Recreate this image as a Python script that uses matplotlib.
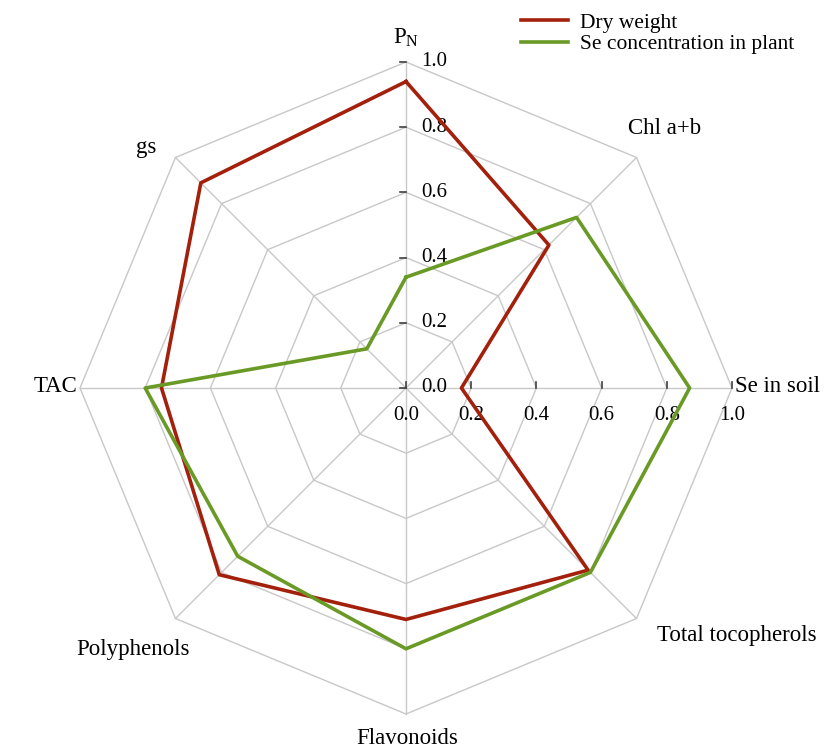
import matplotlib
matplotlib.use("Agg")
import matplotlib.pyplot as plt
import numpy as np

plt.rcParams["font.family"] = ["Liberation Serif", "DejaVu Serif"]

categories = ["P$_\\mathregular{N}$", "Chl a+b", "Se in soil", "Total tocopherols",
              "Flavonoids", "Polyphenols", "TAC", "gs"]
dry_weight = [0.94, 0.62, 0.17, 0.79, 0.71, 0.81, 0.75, 0.89]
se_plant = [0.34, 0.74, 0.87, 0.80, 0.80, 0.73, 0.80, 0.17]
ticks = [0.0, 0.2, 0.4, 0.6, 0.8, 1.0]
series_names = ["Dry weight", "Se concentration in plant"]
series_colors = ["#a3200c", "#6a9a26"]

n = len(categories)
theta = np.arange(n) * 2 * np.pi / n


def xy(vals):
    v = np.array(list(vals) + [vals[0]])
    t = np.append(theta, theta[0])
    return v * np.sin(t), v * np.cos(t)


fig = plt.figure(figsize=(8.38, 7.47), dpi=100)
ax = fig.add_axes([0, 0, 1, 1])
ax.set_xlim(-406 / 326, 432 / 326)
ax.set_ylim(-359 / 326, 388 / 326)
ax.axis("off")

grid_c = "#c8c8c8"
for r in ticks[1:]:
    gx, gy = xy([r] * n)
    ax.plot(gx, gy, color=grid_c, lw=1.0, zorder=1)
for t in theta:
    ax.plot([0, np.sin(t)], [0, np.cos(t)], color=grid_c, lw=1.0, zorder=1)

# tick marks and labels on the vertical and horizontal axes
for r in ticks:
    ax.plot([-0.018, 0], [r, r], color="#404040", lw=1.2, zorder=2)
    ax.text(0.048, r, "%.1f" % r, ha="left", va="center", fontsize=15)
    ax.plot([r, r], [0, 0.018], color="#404040", lw=1.2, zorder=2)
    ax.text(r, -0.085, "%.1f" % r, ha="center", va="center", fontsize=15)

for vals, name, c in zip([dry_weight, se_plant], series_names, series_colors):
    px, py = xy(vals)
    ax.plot(px, py, color=c, lw=2.6, label=name, zorder=3)

# label anchor (pixel x, pixel y, horizontal alignment)
label_pos = [(406, 38, "center"), (665, 128, "center"), (735, 386, "left"),
             (657, 635, "left"), (407, 738, "center"), (190, 650, "right"),
             (77, 386, "right"), (146, 147, "center")]
for lab, (lx, ly, ha) in zip(categories, label_pos):
    ax.text((lx - 406) / 326, (388 - ly) / 326, lab, ha=ha, va="center", fontsize=16.5)

ax.legend(loc="upper left", bbox_to_anchor=(508 / 838, 1.0), frameon=False,
          fontsize=15.5, handlelength=2.2, handletextpad=0.55, labelspacing=0.05,
          borderaxespad=0.2)

fig.savefig("out.png", dpi=100)
